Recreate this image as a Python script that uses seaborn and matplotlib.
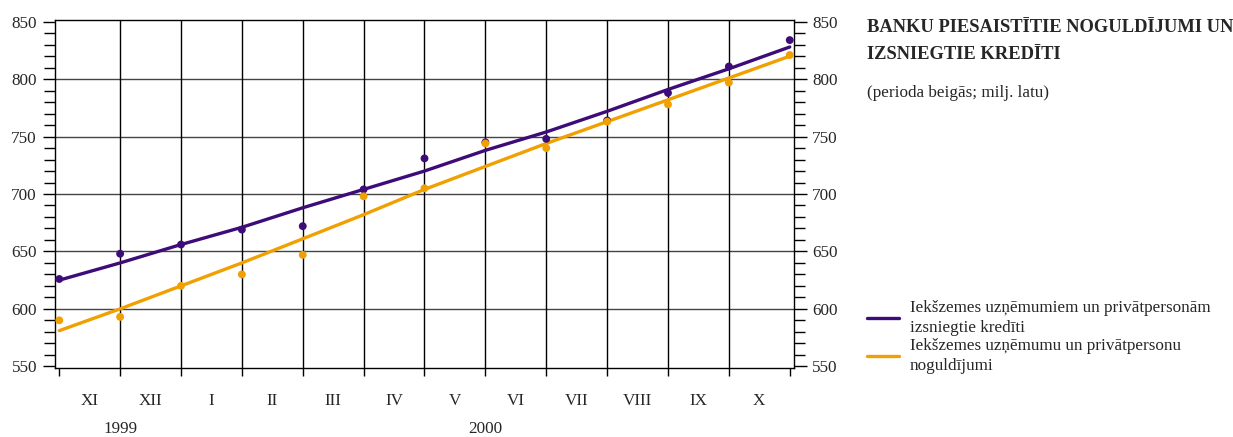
import pandas as pd
import matplotlib.pyplot as plt
import seaborn as sns
import numpy as np
from matplotlib.ticker import MultipleLocator
from matplotlib.lines import Line2D
import matplotlib.transforms as mtransforms

# mēneši (robežas starp punktiem)
menesi = ['XI', 'XII', 'I', 'II', 'III', 'IV', 'V', 'VI', 'VII', 'VIII', 'IX', 'X']
gadi = ['1999', '2000']
gadu_poz = [1, 7]

# izsniegtie krediti: faktiskie punkti un trends
krediti = [626, 648, 656, 669, 672, 704, 731, 745, 748, 764, 788, 811, 834]
krediti_trends = [625, 640, 656, 671, 688, 704, 720, 738, 754, 772, 791, 809, 828]
# noguldijumi
noguldijumi = [590, 593, 620, 630, 647, 698, 705, 744, 740, 763, 778, 797, 821]
noguldijumi_trends = [581, 600, 620, 640, 661, 682, 704, 724, 744, 763, 782, 801, 820]

nosaukumi = ['Iekšzemes uzņēmumiem un privātpersonām\nizsniegtie kredīti',
             'Iekšzemes uzņēmumu un privātpersonu\nnoguldījumi']

purple = '#3d0c78'
orange = '#f0a000'

idx = np.arange(len(krediti))
df = pd.DataFrame({'t': idx, 'kred': krediti, 'kred_tr': krediti_trends,
                   'nog': noguldijumi, 'nog_tr': noguldijumi_trends})

sns.set_style('white')
plt.rcParams['font.family'] = ['Liberation Serif', 'DejaVu Serif']
fs = 12.3

fig = plt.figure(figsize=(12.33, 4.37), dpi=100)
ax = fig.add_axes([55 / 1233, 1 - 368 / 437, (794 - 55) / 1233, (368 - 20) / 437])

# rezga linijas
for v in range(600, 850, 50):
    ax.axhline(v, color='#444444', lw=1, zorder=0)
for i in range(1, 12):
    ax.axvline(i, color='black', lw=1, zorder=0)

sns.lineplot(data=df, x='t', y='kred_tr', color=purple, lw=2.4, ax=ax)
sns.lineplot(data=df, x='t', y='nog_tr', color=orange, lw=2.4, ax=ax)
sns.scatterplot(data=df, x='t', y='kred', color=purple, s=32, edgecolor='none', ax=ax, zorder=3)
sns.scatterplot(data=df, x='t', y='nog', color=orange, s=32, edgecolor='none', ax=ax, zorder=3)

ax.set_xlim(-0.07, 12.07)
ax.set_ylim(548.5, 851.5)
ax.set_xlabel('')
ax.set_ylabel('')

for s in ax.spines.values():
    s.set_color('black')
    s.set_linewidth(1)

ax.set_yticks(range(550, 851, 50))
ax.yaxis.set_minor_locator(MultipleLocator(10))
ax.yaxis.set_ticks_position('both')
ax.tick_params(axis='y', which='both', direction='out', left=True, right=True,
               labelleft=True, labelright=True, labelsize=fs, color='black')
ax.tick_params(axis='y', which='major', length=9, width=1, pad=4)
ax.tick_params(axis='y', which='minor', length=8, width=1)

ax.set_xticks(idx)
ax.set_xticklabels([''] * len(idx))
ax.set_xticks(idx[:-1] + 0.5, minor=True)
ax.set_xticklabels(menesi, minor=True)
ax.tick_params(axis='x', which='major', direction='out', length=6, width=1, color='black', bottom=True)
ax.tick_params(axis='x', which='minor', length=0, pad=18, labelsize=fs)

trans = mtransforms.blended_transform_factory(ax.transData, fig.transFigure)
for g, p in zip(gadi, gadu_poz):
    ax.text(p, 1 - 429 / 437, g, transform=trans, ha='center', va='center', fontsize=fs)

fig.text(867 / 1233, 1 - 19 / 437, 'BANKU PIESAISTĪTIE NOGULDĪJUMI UN\nIZSNIEGTIE KREDĪTI',
         ha='left', va='top', fontsize=13.3, fontweight='bold', linespacing=1.75)
fig.text(867 / 1233, 1 - 93 / 437, '(perioda beigās; milj. latu)', ha='left', va='center', fontsize=fs)

handles = [Line2D([], [], color=purple, lw=2.4), Line2D([], [], color=orange, lw=2.4)]
leg = fig.legend(handles, nosaukumi, loc='upper left', bbox_to_anchor=(860 / 1233, 1 - 293 / 437),
                 frameon=False, fontsize=fs, handlelength=1.9, handletextpad=0.6,
                 labelspacing=0.1, borderaxespad=0)
for t in leg.get_texts():
    t.set_linespacing(1.35)

fig.savefig('out.png', dpi=100)
